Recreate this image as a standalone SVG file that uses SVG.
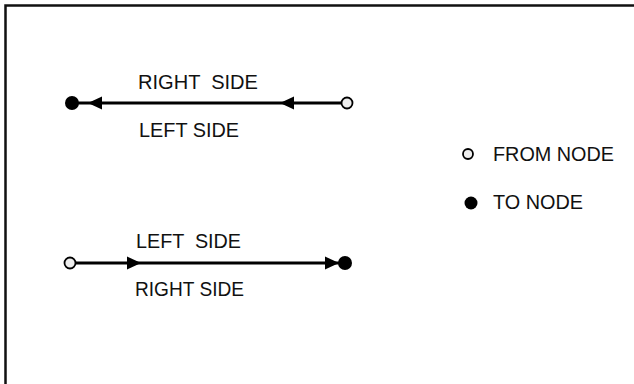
<svg xmlns="http://www.w3.org/2000/svg" width="634" height="384" viewBox="0 0 634 384">
  <style>
    .frame { fill: none; stroke: #111; stroke-width: 2.5; }
    .edge { stroke: #000; stroke-width: 3; fill: none; }
    .head { fill: #000; }
    .from { fill: #eeeeee; stroke: #000; stroke-width: 1.8; }
    .to { fill: #000; }
    .lbl { font-family: "Liberation Sans", Arial, sans-serif; font-size: 19.5px; fill: #111; }
  </style>
  <rect width="634" height="384" fill="#fff"/>
  <path class="frame" d="M5.5 384 V5.5 H634"/>

  <g id="connectors">
    <!-- upper edge: from node on the right, to node on the left -->
    <line class="edge" x1="73" y1="103" x2="342" y2="103"/>
    <polygon class="head" points="88,103 102,96.5 102,109.5"/>
    <polygon class="head" points="280,103 294,96.5 294,109.5"/>
    <!-- lower edge: from node on the left, to node on the right -->
    <line class="edge" x1="75" y1="263" x2="344" y2="263"/>
    <polygon class="head" points="141,263 127,256.5 127,269.5"/>
    <polygon class="head" points="339,263 325,256.5 325,269.5"/>
  </g>

  <g id="edge-upper-labels">
    <text class="lbl" x="138" y="89" textLength="120" lengthAdjust="spacingAndGlyphs" xml:space="preserve">RIGHT  SIDE</text>
    <text class="lbl" x="139" y="137" textLength="100" lengthAdjust="spacingAndGlyphs">LEFT SIDE</text>
  </g>
  <g id="edge-lower-labels">
    <text class="lbl" x="136" y="248" textLength="105" lengthAdjust="spacingAndGlyphs" xml:space="preserve">LEFT  SIDE</text>
    <text class="lbl" x="135" y="296" textLength="109" lengthAdjust="spacingAndGlyphs">RIGHT SIDE</text>
  </g>

  <g id="node-upper-to"><circle class="to" cx="72" cy="103" r="7"/></g>
  <g id="node-upper-from"><circle class="from" cx="347" cy="103" r="5.5"/></g>
  <g id="node-lower-from"><circle class="from" cx="70" cy="263" r="5.5"/></g>
  <g id="node-lower-to"><circle class="to" cx="345" cy="263" r="7"/></g>

  <g id="legend-from">
    <circle class="from" cx="468" cy="154" r="5"/>
    <text class="lbl" x="493" y="161" textLength="121" lengthAdjust="spacingAndGlyphs">FROM NODE</text>
  </g>
  <g id="legend-to">
    <circle class="to" cx="471" cy="203" r="6.5"/>
    <text class="lbl" x="493" y="209" textLength="90" lengthAdjust="spacingAndGlyphs">TO NODE</text>
  </g>
</svg>
